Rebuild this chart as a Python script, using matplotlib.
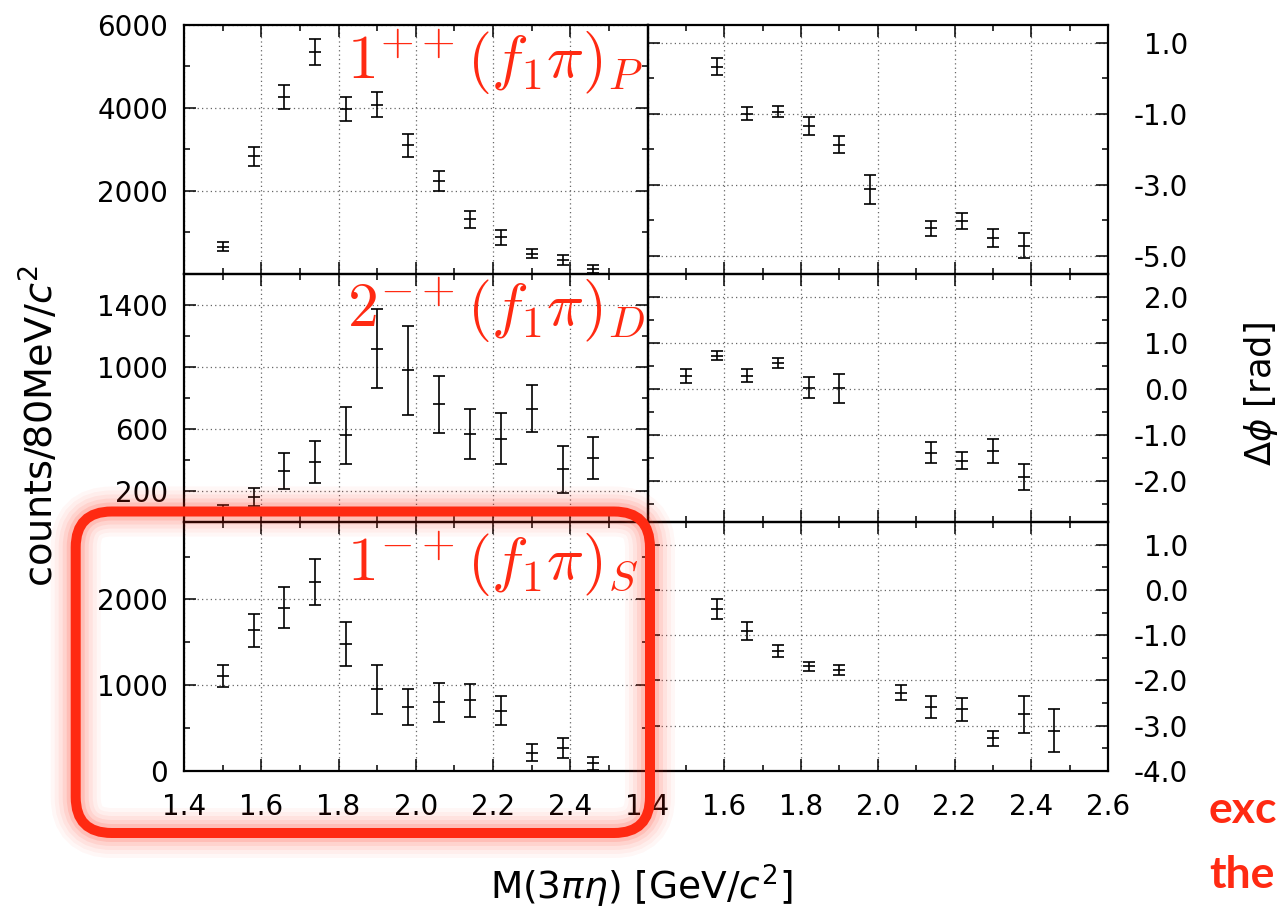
import matplotlib
matplotlib.use('Agg')
import matplotlib.pyplot as plt
from matplotlib.patches import FancyBboxPatch
from matplotlib.ticker import FixedLocator, FixedFormatter

# ---------------- data ----------------
mass = [1.50, 1.58, 1.66, 1.74, 1.82, 1.90, 1.98, 2.06, 2.14, 2.22, 2.30, 2.38, 2.46]

int_1pp_P = [650, 2830, 4260, 5350, 3980, 4080, 3100, 2230, 1310, 870, 480, 320, 110]
err_1pp_P = [100, 230, 290, 320, 290, 310, 280, 240, 200, 170, 110, 115, 90]

int_2mp_D = [55, 162, 330, 386, 560, 1115, 978, 758, 570, 537, 730, 340, 415]
err_2mp_D = [55, 57, 114, 136, 182, 254, 286, 183, 161, 165, 151, 149, 134]

int_1mp_S = [1105, 1640, 1900, 2200, 1475, 950, 745, 800, 820, 700, 212, 267, 87]
err_1mp_S = [133, 190, 239, 270, 257, 288, 212, 227, 196, 171, 98, 118, 76]

mass_phase_P = [1.58, 1.66, 1.74, 1.82, 1.90, 1.98, 2.14, 2.22, 2.30, 2.38]
phase_P = [0.33, -1.00, -0.94, -1.34, -1.87, -3.13, -4.23, -4.02, -4.50, -4.72]
phase_P_err = [0.23, 0.19, 0.16, 0.25, 0.24, 0.41, 0.22, 0.23, 0.26, 0.35]

mass_phase_D = [1.50, 1.58, 1.66, 1.74, 1.82, 1.90, 2.14, 2.22, 2.30, 2.38]
phase_D = [0.28, 0.72, 0.28, 0.55, 0.02, 0.01, -1.39, -1.56, -1.36, -1.91]
phase_D_err = [0.15, 0.09, 0.14, 0.11, 0.23, 0.31, 0.23, 0.19, 0.26, 0.28]

mass_phase_S = [1.58, 1.66, 1.74, 1.82, 1.90, 2.06, 2.14, 2.22, 2.30, 2.38, 2.46]
phase_S = [-0.42, -0.90, -1.35, -1.69, -1.77, -2.27, -2.59, -2.64, -3.28, -2.75, -3.11]
phase_S_err = [0.22, 0.20, 0.14, 0.10, 0.10, 0.17, 0.25, 0.25, 0.17, 0.41, 0.48]

wave_labels = [r'$1^{++}(f_1\pi)_P$', r'$2^{-+}(f_1\pi)_D$', r'$1^{-+}(f_1\pi)_S$']

x_major = [1.4, 1.6, 1.8, 2.0, 2.2, 2.4, 2.6]
x_minor = [1.5, 1.7, 1.9, 2.1, 2.3, 2.5]
x_labels_left = ['1.4', '1.6', '1.8', '2.0', '2.2', '2.4', '']
x_labels_right = ['1.4', '1.6', '1.8', '2.0', '2.2', '2.4', '2.6']

int_ylims = [(0, 6000), (0, 1600), (0, 2900)]
int_major = [[2000, 4000, 6000], [200, 600, 1000, 1400], [0, 1000, 2000]]
int_minor = [[1000, 3000, 5000], [400, 800, 1200], [500, 1500, 2500]]

ph_ylims = [(-5.5, 1.5), (-2.9, 2.5), (-4.0, 1.5)]
ph_major = [[-5.0, -3.0, -1.0, 1.0], [-2.0, -1.0, 0.0, 1.0, 2.0], [-4.0, -3.0, -2.0, -1.0, 0.0, 1.0]]
ph_minor = [[-4.0, -2.0, 0.0], [-2.5, -1.5, -0.5, 0.5, 1.5, 2.5], [-3.5, -2.5, -1.5, -0.5, 0.5, 1.5]]

# ---------------- figure ----------------
W, H = 1280, 909
fig = plt.figure(figsize=(W / 100, H / 100), dpi=100)
fig.patch.set_facecolor('white')

RED = '#ff2a12'
TICKFS = 20

col_x = [(184, 647.5), (647.5, 1108)]
row_y = [(25, 273.5), (273.5, 522.3), (522.3, 770.7)]


def make_ax(c, r):
    x0, x1 = col_x[c]
    y0, y1 = row_y[r]
    ax = fig.add_axes([x0 / W, 1 - y1 / H, (x1 - x0) / W, (y1 - y0) / H])
    ax.patch.set_alpha(0)
    return ax


def style(ax, ylim, ymaj, ymin):
    ax.set_xlim(1.4, 2.6)
    ax.set_ylim(*ylim)
    ax.xaxis.set_major_locator(FixedLocator(x_major))
    ax.xaxis.set_minor_locator(FixedLocator(x_minor))
    ax.yaxis.set_major_locator(FixedLocator(ymaj))
    ax.yaxis.set_minor_locator(FixedLocator(ymin))
    ax.tick_params(which='both', direction='in', top=True, bottom=True,
                   left=True, right=True, width=1.1, labelsize=TICKFS)
    ax.tick_params(which='major', length=8.5)
    ax.tick_params(which='minor', length=4.5)
    ax.grid(True, which='major', color='0.4', linestyle=(0, (1, 2.5)), linewidth=0.9)
    for s in ax.spines.values():
        s.set_linewidth(1.6)


def ebar(ax, x, y, e):
    ax.errorbar(x, y, yerr=e, fmt='_', color='black', ecolor='black',
                elinewidth=1.2, capsize=4.2, capthick=1.2, markersize=8.4,
                markeredgewidth=1.2, clip_on=False, zorder=3)


intens = [(int_1pp_P, err_1pp_P), (int_2mp_D, err_2mp_D), (int_1mp_S, err_1mp_S)]
phases = [(mass_phase_P, phase_P, phase_P_err), (mass_phase_D, phase_D, phase_D_err),
          (mass_phase_S, phase_S, phase_S_err)]

for r in range(3):
    axl = make_ax(0, r)
    style(axl, int_ylims[r], int_major[r], int_minor[r])
    ebar(axl, mass, intens[r][0], intens[r][1])
    axl.tick_params(labelleft=True, pad=11.5)
    axl.yaxis.set_major_formatter(FixedFormatter([str(v) for v in int_major[r]]))
    if r < 2:
        axl.tick_params(axis='x', labelbottom=False)
    else:
        axl.xaxis.set_major_formatter(FixedFormatter(x_labels_left))
        axl.tick_params(axis='x', pad=16)
    axl.text(0.352, 0.78 if r < 2 else 0.76, wave_labels[r], transform=axl.transAxes,
             color=RED, fontsize=44.5, math_fontfamily='cm', ha='left', va='baseline',
             clip_on=False, zorder=10)

    axr = make_ax(1, r)
    style(axr, ph_ylims[r], ph_major[r], ph_minor[r])
    ebar(axr, phases[r][0], phases[r][1], phases[r][2])
    axr.tick_params(axis='y', labelleft=False, labelright=True, pad=57.6)
    axr.yaxis.set_major_formatter(FixedFormatter(['%.1f' % v for v in ph_major[r]]))
    for t in axr.yaxis.get_major_ticks():
        t.label2.set_horizontalalignment('right')
    if r < 2:
        axr.tick_params(axis='x', labelbottom=False)
    else:
        axr.xaxis.set_major_formatter(FixedFormatter(x_labels_right))
        axr.tick_params(axis='x', pad=16)

# axis titles
fig.text(40 / W, 1 - 426 / H, r'counts/80MeV/$c^2$', rotation=90, ha='center', va='center',
         fontsize=27.5)
fig.text(1261 / W, 1 - 394 / H, r'$\Delta\phi$ [rad]', rotation=90, ha='center', va='center',
         fontsize=25.5)
fig.text(641 / W, 1 - 886 / H, r'M(3$\pi\eta$) [GeV/$c^2$]', ha='center', va='center',
         fontsize=27)

# overlay: highlight box and slide text
ov = fig.add_axes([0, 0, 1, 1], zorder=20)
ov.set_xlim(0, W)
ov.set_ylim(H, 0)
ov.axis('off')
ov.patch.set_alpha(0)
bx0, by0, bx1, by1 = 75.7, 511.5, 650, 833
for lw, a in [(50, 0.035), (42, 0.045), (34, 0.06), (26, 0.08), (18, 0.12)]:
    ov.add_patch(FancyBboxPatch((bx0, by0), bx1 - bx0, by1 - by0,
                                boxstyle='round,pad=0,rounding_size=36',
                                fill=False, edgecolor=RED, linewidth=lw * 0.72, alpha=a))
ov.add_patch(FancyBboxPatch((bx0, by0), bx1 - bx0, by1 - by0,
                            boxstyle='round,pad=0,rounding_size=36',
                            fill=False, edgecolor=RED, linewidth=7.2))
ov.text(1209, 823, 'exc', color=RED, fontsize=32, family='Lato', weight='bold',
        ha='left', va='baseline')
ov.text(1209, 888, 'the', color=RED, fontsize=32, family='Lato', weight='bold',
        ha='left', va='baseline')

fig.savefig('out.png', dpi=100)
